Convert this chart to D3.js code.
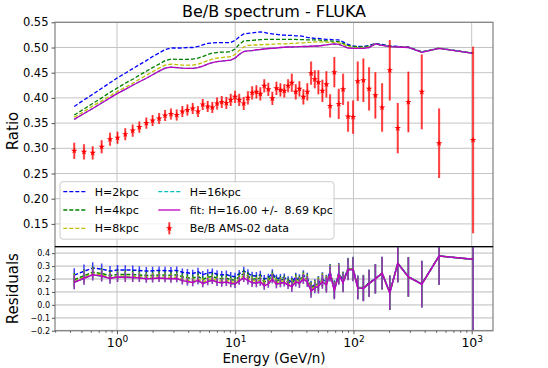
<!DOCTYPE html>
<html>
<head>
<meta charset="utf-8">
<script src="https://cdn.jsdelivr.net/npm/d3@7"></script>
<style>
body { margin: 0; background: #fff; }
text { font-family: "DejaVu Sans", sans-serif; fill: #000; white-space: pre; }
</style>
</head>
<body>
<div id="chart"></div>
<script>
// kinetic energy per nucleon (GeV/n) of the AMS-02 bins
let energy = [0.435, 0.526, 0.623, 0.742, 0.873, 1.01, 1.175, 1.358, 1.545, 1.77,
  2.0, 2.27, 2.55, 2.86, 3.2, 3.57, 3.94, 4.37, 4.84, 5.31,
  5.85, 6.4, 7.02, 7.69, 8.41, 9.16, 9.96, 10.8, 11.8, 12.8,
  13.9, 15.1, 16.3, 17.6, 19.05, 20.6, 22.3, 24.1, 26.0, 28.0,
  30.1, 32.5, 34.9, 37.7, 40.7, 43.8, 47.1, 50.5, 54.6, 59.0,
  63.4, 68.9, 75.1, 81.7, 90.0, 99.2, 108.7, 121.3, 135.5, 153.2,
  174.6, 202.8, 237.0, 291.3, 378.3, 530, 1027];

// Be/B AMS-02 data
let dataRatio = [0.295, 0.293, 0.291, 0.303, 0.318, 0.321, 0.328, 0.335, 0.342, 0.350,
  0.355, 0.359, 0.365, 0.368, 0.366, 0.373, 0.376, 0.379, 0.373, 0.387,
  0.383, 0.381, 0.389, 0.392, 0.390, 0.396, 0.402, 0.396, 0.389, 0.400,
  0.410, 0.412, 0.408, 0.424, 0.417, 0.399, 0.419, 0.416, 0.414, 0.424,
  0.430, 0.412, 0.418, 0.402, 0.412, 0.449, 0.437, 0.431, 0.414, 0.427,
  0.384, 0.451, 0.388, 0.417, 0.363, 0.362, 0.433, 0.435, 0.418, 0.405,
  0.381, 0.455, 0.340, 0.392, 0.412, 0.310, 0.3165];

let dataErr = [0.016, 0.015, 0.013, 0.013, 0.013, 0.012, 0.012, 0.012, 0.011, 0.011,
  0.011, 0.011, 0.011, 0.011, 0.011, 0.011, 0.011, 0.011, 0.011, 0.011,
  0.011, 0.011, 0.012, 0.012, 0.012, 0.012, 0.012, 0.012, 0.013, 0.013,
  0.013, 0.013, 0.013, 0.013, 0.013, 0.013, 0.013, 0.013, 0.013, 0.013,
  0.018, 0.015, 0.015, 0.015, 0.017, 0.023, 0.018, 0.024, 0.022, 0.026,
  0.023, 0.030, 0.030, 0.031, 0.030, 0.033, 0.039, 0.043, 0.043, 0.046,
  0.048, 0.060, 0.050, 0.060, 0.074, 0.069, 0.185];

// FLUKA model predictions for each halo height
let ratioH2 = [0.383, 0.396, 0.407, 0.419, 0.430, 0.440, 0.449, 0.458, 0.466, 0.474,
  0.482, 0.489, 0.496, 0.499, 0.499, 0.499, 0.500, 0.500, 0.502, 0.505,
  0.508, 0.509, 0.5095, 0.5095, 0.5095, 0.510, 0.514, 0.521, 0.527, 0.528,
  0.529, 0.530, 0.531, 0.530, 0.528, 0.527, 0.526, 0.525, 0.5245, 0.524,
  0.524, 0.523, 0.523, 0.522, 0.520, 0.519, 0.518, 0.518, 0.517, 0.516,
  0.516, 0.515, 0.515, 0.511, 0.506, 0.503, 0.502, 0.502, 0.504, 0.508,
  0.506, 0.503, 0.502, 0.501, 0.4915, 0.4988, 0.4887];

let ratioH4 = [0.366, 0.378, 0.389, 0.400, 0.411, 0.420, 0.429, 0.437, 0.445, 0.453,
  0.460, 0.467, 0.474, 0.477, 0.4766, 0.4766, 0.4766, 0.477, 0.479, 0.482,
  0.486, 0.489, 0.490, 0.491, 0.491, 0.492, 0.497, 0.506, 0.513, 0.5135,
  0.514, 0.515, 0.5155, 0.516, 0.516, 0.516, 0.516, 0.5163, 0.5163, 0.516,
  0.516, 0.516, 0.5155, 0.5155, 0.515, 0.515, 0.515, 0.515, 0.514, 0.513,
  0.513, 0.512, 0.5115, 0.508, 0.504, 0.502, 0.5015, 0.501, 0.503, 0.507,
  0.505, 0.5026, 0.5016, 0.5006, 0.491, 0.4986, 0.4886];

let ratioH8 = [0.3615, 0.373, 0.384, 0.394, 0.404, 0.413, 0.421, 0.429, 0.437, 0.445,
  0.452, 0.459, 0.465, 0.467, 0.466, 0.465, 0.465, 0.465, 0.467, 0.470,
  0.474, 0.477, 0.479, 0.480, 0.481, 0.482, 0.486, 0.494, 0.501, 0.504,
  0.505, 0.505, 0.5055, 0.506, 0.506, 0.5065, 0.507, 0.507, 0.507, 0.5075,
  0.508, 0.508, 0.509, 0.509, 0.510, 0.510, 0.511, 0.511, 0.511, 0.5105,
  0.510, 0.5095, 0.5095, 0.506, 0.502, 0.500, 0.4995, 0.4995, 0.501, 0.507,
  0.5045, 0.502, 0.501, 0.5003, 0.4907, 0.4985, 0.4885];

let ratioFit = [0.3575, 0.369, 0.379, 0.390, 0.400, 0.409, 0.417, 0.425, 0.432, 0.439,
  0.446, 0.453, 0.459, 0.461, 0.460, 0.459, 0.4585, 0.4587, 0.460, 0.463,
  0.467, 0.470, 0.472, 0.473, 0.474, 0.475, 0.479, 0.486, 0.492, 0.4935,
  0.494, 0.4955, 0.496, 0.497, 0.498, 0.4985, 0.499, 0.500, 0.5005, 0.501,
  0.501, 0.5013, 0.5016, 0.502, 0.502, 0.5025, 0.503, 0.503, 0.504, 0.505,
  0.506, 0.507, 0.506, 0.503, 0.499, 0.4984, 0.4984, 0.4984, 0.500, 0.507,
  0.504, 0.5016, 0.501, 0.500, 0.4905, 0.4984, 0.4885];

// the fit landed on H=16 kpc, the two curves coincide
let ratioH16 = ratioFit.slice();

let ratioTicks = [0.15, 0.20, 0.25, 0.30, 0.35, 0.40, 0.45, 0.50, 0.55];
let residTicks = [-0.2, -0.1, 0.0, 0.1, 0.2, 0.3, 0.4];
let decadeTicks = [1, 10, 100, 1000];
let decadeExp = ["0", "1", "2", "3"];

let models = [
  {label: "H=2kpc", values: ratioH2, color: "#0000ff", dash: "4,2"},
  {label: "H=4kpc", values: ratioH4, color: "#008000", dash: "4,2"},
  {label: "H=8kpc", values: ratioH8, color: "#bfbf00", dash: "4,2"},
  {label: "H=16kpc", values: ratioH16, color: "#00bfbf", dash: "4,2"},
  {label: "fit: H=16.00 +/-  8.69 Kpc", values: ratioFit, color: "#bf00bf", dash: null}
];

let width = 548;
let height = 368;
let left = 55, right = 493;
let topY = 22.3, midY = 246.7, botY = 330.7;

let svg = d3.select("#chart").append("svg")
  .attr("width", width)
  .attr("height", height);

let x = d3.scaleLog().domain([0.299, 1514]).range([left, right]);
let yTop = d3.scaleLinear().domain([0.1, 0.55]).range([topY + 9 * 25.2, topY]);
let yBot = d3.scaleLinear().domain([-0.2, 0.45]).range([botY, midY]);

let minorTicks = [];
[0.1, 1, 10, 100, 1000].forEach(d => {
  for (let k = 2; k <= 9; k++) minorTicks.push(d * k);
});
minorTicks = minorTicks.filter(v => v > 0.299 && v < 1514);

let defs = svg.append("defs");
defs.append("clipPath").attr("id", "clipTop").append("rect")
  .attr("x", left).attr("y", topY).attr("width", right - left).attr("height", midY - topY);
defs.append("clipPath").attr("id", "clipBot").append("rect")
  .attr("x", left).attr("y", midY).attr("width", right - left).attr("height", botY - midY);

// ---------- top panel ----------
let gTop = svg.append("g");

gTop.append("g").selectAll("line").data(ratioTicks).enter().append("line")
  .attr("x1", left).attr("x2", right)
  .attr("y1", d => yTop(d)).attr("y2", d => yTop(d))
  .attr("stroke", "#c4c4c4").attr("stroke-width", 1);

gTop.append("g").selectAll("line").data(decadeTicks).enter().append("line")
  .attr("x1", d => x(d)).attr("x2", d => x(d))
  .attr("y1", topY).attr("y2", midY)
  .attr("stroke", "#c4c4c4").attr("stroke-width", 1);

let plotTop = gTop.append("g").attr("clip-path", "url(#clipTop)");

let idx = d3.range(energy.length);

models.forEach(m => {
  let line = d3.line().x(i => x(energy[i])).y(i => yTop(m.values[i]));
  plotTop.append("path")
    .attr("d", line(idx))
    .attr("fill", "none")
    .attr("stroke", m.color)
    .attr("stroke-width", 1.3)
    .attr("stroke-dasharray", m.dash);
});

// data error bars
plotTop.append("g").selectAll("line").data(idx).enter().append("line")
  .attr("x1", i => x(energy[i])).attr("x2", i => x(energy[i]))
  .attr("y1", i => yTop(dataRatio[i] - dataErr[i]))
  .attr("y2", i => yTop(dataRatio[i] + dataErr[i]))
  .attr("stroke", "#ff0000").attr("stroke-opacity", 0.55).attr("stroke-width", 2.2);

plotTop.append("g").selectAll("line").data(idx).enter().append("line")
  .attr("x1", i => x(energy[i])).attr("x2", i => x(energy[i]))
  .attr("y1", i => yTop(dataRatio[i] - dataErr[i]))
  .attr("y2", i => yTop(dataRatio[i] + dataErr[i]))
  .attr("stroke", "#ff0000").attr("stroke-width", 0.7);

let star = d3.symbol().type(d3.symbolStar).size(13);
plotTop.append("g").selectAll("path").data(idx).enter().append("path")
  .attr("d", star)
  .attr("transform", i => `translate(${x(energy[i])},${yTop(dataRatio[i])})`)
  .attr("fill", "#ff0000");

gTop.append("rect")
  .attr("x", left).attr("y", topY)
  .attr("width", right - left).attr("height", midY - topY)
  .attr("fill", "none").attr("stroke", "#808080").attr("stroke-width", 1.2);

let axTop = gTop.append("g")
  .attr("transform", `translate(${left},0)`)
  .call(d3.axisLeft(yTop).tickValues(ratioTicks).tickFormat(d3.format(".2f")).tickSize(3.5).tickPadding(3));
axTop.select(".domain").remove();
axTop.selectAll("line").attr("stroke", "#555");
axTop.selectAll("text").attr("font-size", 11.5).attr("font-family", "DejaVu Sans");

svg.append("text")
  .attr("transform", "translate(18,131) rotate(-90)")
  .attr("text-anchor", "middle")
  .attr("font-size", 15)
  .text("Ratio");

svg.append("text")
  .attr("x", (left + right) / 2).attr("y", 17)
  .attr("text-anchor", "middle")
  .attr("font-size", 16)
  .text("Be/B spectrum - FLUKA");

// legend
let lg = svg.append("g").attr("transform", "translate(60,181.7)");
lg.append("rect")
  .attr("width", 274).attr("height", 57.5).attr("rx", 3)
  .attr("fill", "#fff").attr("fill-opacity", 0.8)
  .attr("stroke", "#cccccc").attr("stroke-width", 1);

let legendItems = models.map(m => ({label: m.label, color: m.color, dash: m.dash, kind: "line"}));
legendItems.push({label: "Be/B AMS-02 data", color: "#ff0000", kind: "data"});

legendItems.forEach((d, k) => {
  let col = Math.floor(k / 3), row = k % 3;
  let gx = col === 0 ? 3.3 : 98.3;
  let gy = 10 + row * 18.3;
  let item = lg.append("g").attr("transform", `translate(${gx},${gy})`);
  if (d.kind === "line") {
    item.append("line").attr("x1", 0).attr("x2", 22).attr("y1", 0).attr("y2", 0)
      .attr("stroke", d.color).attr("stroke-width", 1.3).attr("stroke-dasharray", d.dash);
  } else {
    item.append("line").attr("x1", 11).attr("x2", 11).attr("y1", -6).attr("y2", 6)
      .attr("stroke", d.color).attr("stroke-opacity", 0.55).attr("stroke-width", 2.2);
    item.append("line").attr("x1", 11).attr("x2", 11).attr("y1", -6).attr("y2", 6)
      .attr("stroke", d.color).attr("stroke-width", 0.7);
    item.append("path").attr("d", star).attr("transform", "translate(11,0)").attr("fill", d.color);
  }
  item.append("text").attr("x", 31.5).attr("y", 4).attr("font-size", 11).text(d.label);
});

// ---------- residual panel ----------
let gBot = svg.append("g");

gBot.append("rect")
  .attr("x", left).attr("y", midY)
  .attr("width", right - left).attr("height", botY - midY)
  .attr("fill", "#fff");

gBot.append("g").selectAll("line").data(residTicks).enter().append("line")
  .attr("x1", left).attr("x2", right)
  .attr("y1", d => yBot(d)).attr("y2", d => yBot(d))
  .attr("stroke", "#d8d8d8").attr("stroke-width", 1.8);

gBot.append("g").selectAll("line").data(decadeTicks).enter().append("line")
  .attr("x1", d => x(d)).attr("x2", d => x(d))
  .attr("y1", midY).attr("y2", botY)
  .attr("stroke", "#c4c4c4").attr("stroke-width", 1);

let plotBot = gBot.append("g").attr("clip-path", "url(#clipBot)");

models.forEach(m => {
  let resid = idx.map(i => (m.values[i] - dataRatio[i]) / m.values[i]);
  let residErr = idx.map(i => dataErr[i] / dataRatio[i]);
  plotBot.append("g").selectAll("line").data(idx).enter().append("line")
    .attr("x1", i => x(energy[i])).attr("x2", i => x(energy[i]))
    .attr("y1", i => yBot(resid[i] - residErr[i]))
    .attr("y2", i => yBot(resid[i] + residErr[i]))
    .attr("stroke", m.color).attr("stroke-opacity", 0.75).attr("stroke-width", 1.5);
  let line = d3.line().x(i => x(energy[i])).y(i => yBot(resid[i]));
  plotBot.append("path")
    .attr("d", line(idx))
    .attr("fill", "none")
    .attr("stroke", m.color)
    .attr("stroke-width", 1.5)
    .attr("stroke-dasharray", m.dash);
});

gBot.append("rect")
  .attr("x", left).attr("y", midY)
  .attr("width", right - left).attr("height", botY - midY)
  .attr("fill", "none").attr("stroke", "#808080").attr("stroke-width", 1.2);

gBot.append("line")
  .attr("x1", left).attr("x2", right).attr("y1", midY).attr("y2", midY)
  .attr("stroke", "#000").attr("stroke-width", 1.2);

let axBotY = gBot.append("g")
  .attr("transform", `translate(${left},0)`)
  .call(d3.axisLeft(yBot).tickValues(residTicks)
    .tickFormat(d => d3.format(".1f")(d).replace("-", "\u2212")).tickSize(3).tickPadding(2));
axBotY.select(".domain").remove();
axBotY.selectAll("line").attr("stroke", "#555");
axBotY.selectAll("text").attr("font-size", 8).attr("font-family", "DejaVu Sans");

let axMinor = gBot.append("g")
  .attr("transform", `translate(0,${botY})`)
  .call(d3.axisBottom(x).tickValues(minorTicks).tickFormat("").tickSize(2));
axMinor.select(".domain").remove();
axMinor.selectAll("line").attr("stroke", "#555");

let axBotX = gBot.append("g")
  .attr("transform", `translate(0,${botY})`)
  .call(d3.axisBottom(x).tickValues(decadeTicks).tickSize(3.5).tickPadding(4));
axBotX.select(".domain").remove();
axBotX.selectAll("line").attr("stroke", "#555");
axBotX.selectAll("text").each(function(d, k) {
  let t = d3.select(this).text("").attr("font-size", 12.5).attr("font-family", "DejaVu Sans");
  t.append("tspan").text("10");
  t.append("tspan").attr("dy", -5).attr("font-size", 9).text(decadeExp[k]);
});

svg.append("text")
  .attr("transform", `translate(18,${(midY + botY) / 2}) rotate(-90)`)
  .attr("text-anchor", "middle")
  .attr("font-size", 15)
  .text("Residuals");

svg.append("text")
  .attr("x", (left + right) / 2).attr("y", 363)
  .attr("text-anchor", "middle")
  .attr("font-size", 13.5)
  .text("Energy (GeV/n)");
</script>
</body>
</html>
